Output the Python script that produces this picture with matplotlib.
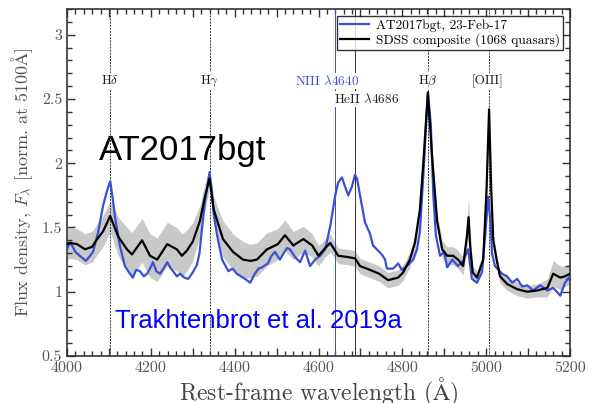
import numpy as np
import matplotlib
matplotlib.use("Agg")
from matplotlib import pyplot as plt
from matplotlib.ticker import MultipleLocator, FuncFormatter

# AT2017bgt spectrum (rest-frame wavelength, normalised flux)
at_wave = [4000, 4006, 4012, 4020, 4030, 4045, 4055, 4062, 4074, 4086,
           4095, 4103, 4108, 4115, 4126, 4138, 4148, 4157, 4165, 4174,
           4183, 4191, 4198, 4205, 4213, 4222, 4230, 4239, 4246, 4253,
           4262, 4270, 4280, 4289, 4300, 4310, 4316, 4322, 4330, 4340,
           4345, 4350, 4358, 4370, 4385, 4395, 4405, 4415, 4425, 4437,
           4448, 4457, 4465, 4479, 4488, 4496, 4508, 4517, 4525, 4532,
           4540, 4544, 4556, 4568, 4580, 4592, 4604, 4616, 4628, 4640,
           4647, 4656, 4663, 4671, 4680, 4687, 4692, 4699, 4711, 4723,
           4730, 4742, 4751, 4759, 4763, 4778, 4790, 4799, 4814, 4826,
           4835, 4842, 4850, 4861, 4868, 4874, 4880, 4890, 4900, 4907,
           4919, 4933, 4945, 4957, 4966, 4978, 4990, 4998, 5005, 5010,
           5014, 5021, 5038, 5050, 5062, 5074, 5086, 5098, 5112, 5129,
           5146, 5160, 5177, 5188, 5200]
at_flux = [1.33, 1.38, 1.36, 1.31, 1.28, 1.24, 1.28, 1.31, 1.46, 1.67,
           1.78, 1.86, 1.75, 1.57, 1.36, 1.20, 1.15, 1.11, 1.17, 1.16,
           1.12, 1.14, 1.18, 1.23, 1.16, 1.14, 1.18, 1.23, 1.19, 1.16,
           1.12, 1.14, 1.11, 1.10, 1.15, 1.21, 1.30, 1.49, 1.72, 1.93,
           1.80, 1.60, 1.44, 1.25, 1.16, 1.18, 1.14, 1.12, 1.10, 1.07,
           1.14, 1.18, 1.19, 1.22, 1.28, 1.31, 1.25, 1.30, 1.34, 1.33,
           1.29, 1.27, 1.23, 1.32, 1.20, 1.25, 1.28, 1.33, 1.51, 1.75,
           1.85, 1.89, 1.82, 1.75, 1.82, 1.91, 1.88, 1.75, 1.54, 1.45,
           1.36, 1.32, 1.29, 1.25, 1.18, 1.18, 1.22, 1.17, 1.21, 1.25,
           1.33, 1.47, 1.90, 2.55, 2.30, 1.75, 1.44, 1.28, 1.31, 1.19,
           1.25, 1.20, 1.24, 1.33, 1.10, 1.07, 1.15, 1.45, 1.74, 1.55,
           1.30, 1.20, 1.14, 1.12, 1.07, 1.10, 1.04, 1.05, 1.01, 1.05,
           1.01, 1.03, 0.97, 1.07, 1.12]

# SDSS composite and its spread (grey band half-width)
sdss_wave = [4000, 4007, 4024, 4043, 4060, 4072, 4086, 4103, 4122, 4143,
             4155, 4179, 4198, 4215, 4239, 4262, 4274, 4286, 4300, 4317,
             4329, 4340, 4350, 4372, 4396, 4420, 4437, 4453, 4477, 4503,
             4520, 4540, 4564, 4585, 4600, 4616, 4628, 4647, 4670, 4687,
             4699, 4723, 4745, 4766, 4790, 4802, 4818, 4830, 4842, 4850,
             4861, 4871, 4883, 4895, 4907, 4921, 4933, 4945, 4954, 4958,
             4962, 4968, 4978, 4993, 5001, 5007, 5012, 5017, 5025, 5033,
             5050, 5074, 5098, 5122, 5146, 5160, 5177, 5188, 5200]
sdss_flux = [1.37, 1.38, 1.37, 1.33, 1.35, 1.41, 1.47, 1.59, 1.43, 1.33,
             1.29, 1.40, 1.28, 1.25, 1.37, 1.33, 1.28, 1.32, 1.39, 1.55,
             1.74, 1.88, 1.64, 1.41, 1.31, 1.25, 1.24, 1.25, 1.33, 1.37,
             1.44, 1.36, 1.41, 1.36, 1.28, 1.34, 1.38, 1.28, 1.27, 1.26,
             1.20, 1.17, 1.14, 1.09, 1.11, 1.15, 1.25, 1.38, 1.64, 2.00,
             2.55, 2.05, 1.55, 1.33, 1.28, 1.28, 1.25, 1.20, 1.43, 1.58,
             1.35, 1.15, 1.11, 1.25, 1.80, 2.42, 1.80, 1.40, 1.25, 1.12,
             1.06, 1.02, 1.00, 1.01, 1.03, 1.14, 1.11, 1.12, 1.14]
sdss_err = [0.12, 0.12, 0.12, 0.12, 0.12, 0.12, 0.12, 0.12,
            0.15, 0.17, 0.17, 0.17, 0.17, 0.17, 0.17, 0.17, 0.17, 0.16, 0.15,
            0.12, 0.10, 0.08, 0.10,
            0.14, 0.14, 0.14, 0.13, 0.13, 0.13, 0.12, 0.12, 0.11, 0.10,
            0.09, 0.08, 0.07, 0.07, 0.06, 0.06, 0.06, 0.06, 0.06, 0.06, 0.06, 0.06, 0.06, 0.06, 0.06,
            0.06, 0.06, 0.06, 0.06, 0.06,
            0.07, 0.07, 0.07, 0.07, 0.07,
            0.10, 0.16, 0.10,
            0.05, 0.05, 0.05, 0.06, 0.06, 0.06, 0.05, 0.05, 0.05,
            0.05, 0.05, 0.05, 0.05, 0.07, 0.10, 0.09, 0.08, 0.08]

# line markers: name, wavelength, label x, label y, colour, style
line_names = ["H$\\delta$", "H$\\gamma$", "NIII $\\lambda$4640", "HeII $\\lambda$4686", "H$\\beta$", "[OIII]"]
line_waves = [4102, 4340, 4640, 4686, 4861, 5007]
label_x = [4102, 4340, 4620, 4714, 4861, 5002]
label_y = [2.64, 2.64, 2.64, 2.50, 2.64, 2.64]
line_colors = ["#333333", "#333333", "#3a4fd8", "#333333", "#333333", "#333333"]
line_styles = [(0, (2, 1.2)), (0, (2, 1.2)), "-", "-", (0, (2, 1.2)), (0, (2, 1.2))]

plt.rcParams["font.family"] = ["cmr10", "DejaVu Serif"]
plt.rcParams["mathtext.fontset"] = "cm"
plt.rcParams["axes.formatter.use_mathtext"] = True

blue = "#3a4fd8"

fig = plt.figure(figsize=(5.89, 4.03), dpi=100)
ax = fig.add_axes([0.1138, 0.1166, 0.8539, 0.8611])

sw = np.array(sdss_wave)
sf = np.array(sdss_flux)
se = np.array(sdss_err)
ax.fill_between(sw, sf - se, sf + se, color="#c9c9c9", lw=0, zorder=1)

for w, c, s in zip(line_waves, line_colors, line_styles):
    ax.axvline(w, color=c, ls=s, lw=0.7, zorder=2)

ax.plot(at_wave, at_flux, color=blue, lw=1.6, zorder=3, label="AT2017bgt, 23-Feb-17")
ax.plot(sdss_wave, sdss_flux, color="black", lw=1.6, zorder=4, label="SDSS composite (1068 quasars)")

for name, x, y, c in zip(line_names, label_x, label_y, line_colors):
    col = blue if c == blue else "#222222"
    ax.text(x, y, name, ha="center", va="center", fontsize=9.5, color=col,
            bbox=dict(facecolor="white", edgecolor="none", pad=1.0), zorder=5)

ax.text(4075, 2.10, "AT2017bgt", family="Liberation Sans", fontsize=25, color="black",
        ha="left", va="center", zorder=6)
ax.text(4115, 0.77, "Trakhtenbrot et al. 2019a", family="Liberation Sans", fontsize=18.5,
        color="#0000ff", ha="left", va="center", zorder=6)

leg = ax.legend(loc="upper right", fontsize=9.6, frameon=True, fancybox=False,
                borderaxespad=0.5, handlelength=2.2, labelspacing=0.1,
                borderpad=0.25, handletextpad=0.5)
leg.get_frame().set_edgecolor("black")
leg.get_frame().set_linewidth(1.0)
leg.set_zorder(10)

ax.set_xlim(4000, 5200)
ax.set_ylim(0.5, 3.2)
ax.xaxis.set_major_locator(MultipleLocator(100))
ax.xaxis.set_minor_locator(MultipleLocator(20))
ax.xaxis.set_major_formatter(FuncFormatter(lambda v, p: "%d" % v if v % 200 == 0 else ""))
ax.yaxis.set_major_locator(MultipleLocator(0.5))
ax.yaxis.set_minor_locator(MultipleLocator(0.1))
ax.yaxis.set_major_formatter(FuncFormatter(lambda v, p: "%g" % v))
ax.tick_params(which="both", direction="in", top=True, right=True, colors="#333333",
               labelcolor="#555555", labelsize=11.5)
ax.tick_params(which="major", length=6, width=1.0)
ax.tick_params(which="minor", length=3.5, width=1.0)
for sp in ax.spines.values():
    sp.set_color("#333333")
    sp.set_linewidth(1.2)

ax.set_xlabel("Rest-frame wavelength ($\\mathrm{\\AA}$)", fontsize=17, color="#444444", labelpad=1)
ax.set_ylabel("Flux density, $F_\\lambda$ [norm. at 5100$\\mathrm{\\AA}$]", fontsize=13,
              color="#555555", labelpad=5)

plt.savefig("out.png", dpi=100)
